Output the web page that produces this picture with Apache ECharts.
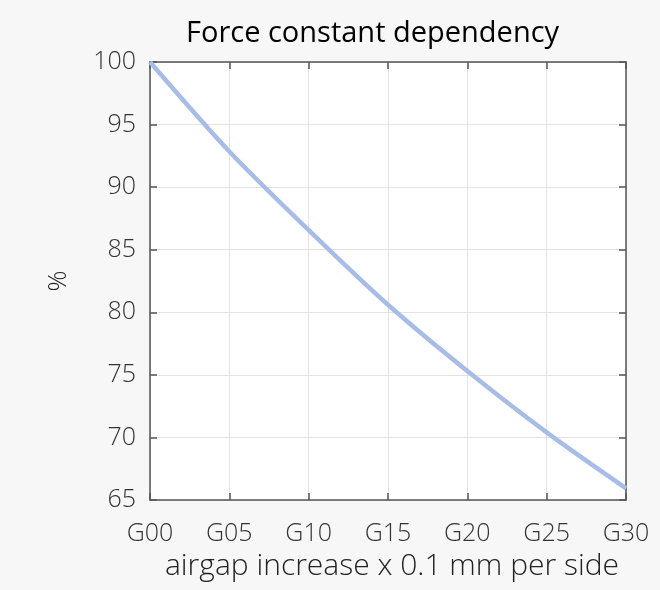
<!DOCTYPE html>
<html>
<head>
<meta charset="utf-8">
<script src="https://cdn.jsdelivr.net/npm/echarts@6/dist/echarts.min.js"></script>
<style>
html,body{margin:0;padding:0;background:#f7f7f7;}
#main{width:660px;height:590px;}
</style>
</head>
<body>
<div id="main"></div>
<script>
var gapSteps = [0, 5, 10, 15, 20, 25, 30];
var forcePct = [100, 92.85, 86.57, 80.6, 75.3, 70.4, 65.93];
var yTicks = [65, 70, 75, 80, 85, 90, 95, 100];
var titleText = 'Force constant dependency';
var xName = 'airgap increase x 0.1 mm per side';
var yName = '%';

var FONT = '"Open Sans", sans-serif';
var chart = echarts.init(document.getElementById('main'), null, {renderer: 'canvas'});
var lineData = gapSteps.map(function (g, i) { return [g, forcePct[i]]; });
function gLabel(v) { return 'G' + (v < 10 ? '0' : '') + v; }

var axisLineStyle = {color: '#555555', width: 1.5};
chart.setOption({
  backgroundColor: '#f7f7f7',
  animation: false,
  graphic: [{
    type: 'text',
    left: 186, top: 19,
    style: {text: titleText, font: 'normal 29px "Open Sans", sans-serif', fill: '#000'}
  }],
  grid: {left: 150, right: 34, top: 62, bottom: 90, show: true, backgroundColor: '#ffffff', borderWidth: 0},
  xAxis: [{
    type: 'value', min: 0, max: 30, interval: 5,
    position: 'bottom',
    name: xName, nameLocation: 'middle', nameGap: 51,
    nameTextStyle: {fontFamily: FONT, fontSize: 30, fontWeight: 300, color: '#222', padding: [0, 0, 0, 8]},
    axisLine: {show: true, onZero: false, lineStyle: axisLineStyle},
    axisTick: {show: true, inside: true, length: 7, lineStyle: axisLineStyle},
    axisLabel: {formatter: gLabel, fontFamily: FONT, fontSize: 25, fontWeight: 300, color: '#333', margin: 21},
    splitLine: {show: true, lineStyle: {color: '#e3e3e3', width: 1}}
  }, {
    type: 'value', min: 0, max: 30, interval: 5,
    position: 'top',
    axisLine: {show: true, onZero: false, lineStyle: axisLineStyle},
    axisTick: {show: true, inside: true, length: 7, lineStyle: axisLineStyle},
    axisLabel: {show: false},
    splitLine: {show: false}
  }],
  yAxis: [{
    type: 'value', min: 65, max: 100, interval: 5,
    position: 'left',
    name: yName, nameLocation: 'middle', nameGap: 78, nameRotate: 90,
    nameTextStyle: {fontFamily: FONT, fontSize: 26, fontWeight: 300, color: '#222'},
    axisLine: {show: true, onZero: false, lineStyle: axisLineStyle},
    axisTick: {show: true, inside: true, length: 7, lineStyle: axisLineStyle},
    axisLabel: {fontFamily: FONT, fontSize: 25, fontWeight: 300, color: '#333', margin: 14},
    splitLine: {show: true, lineStyle: {color: '#e3e3e3', width: 1}}
  }, {
    type: 'value', min: 65, max: 100, interval: 5,
    position: 'right',
    axisLine: {show: true, onZero: false, lineStyle: axisLineStyle},
    axisTick: {show: true, inside: true, length: 7, lineStyle: axisLineStyle},
    axisLabel: {show: false},
    splitLine: {show: false}
  }],
  series: [{
    type: 'line',
    data: lineData,
    smooth: 0.3,
    showSymbol: false,
    lineStyle: {color: '#a7bde7', width: 4.5},
    itemStyle: {color: '#a7bde7'}
  }]
});
</script>
</body>
</html>
